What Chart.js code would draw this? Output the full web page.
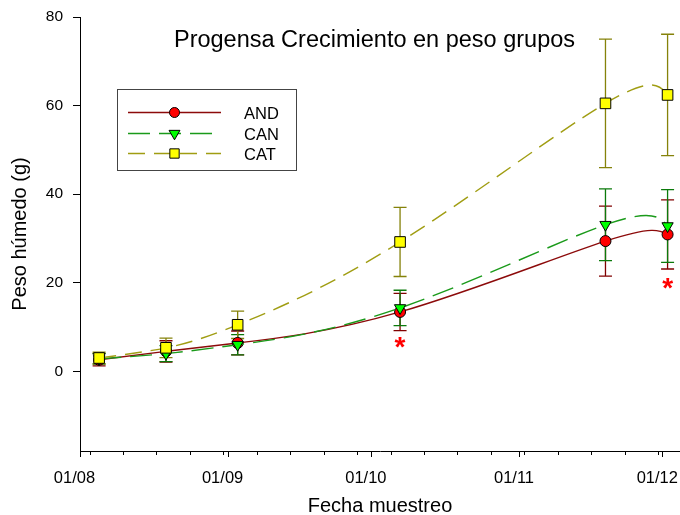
<!DOCTYPE html>
<html>
<head>
<meta charset="utf-8">
<script src="https://cdn.jsdelivr.net/npm/chart.js@4/dist/chart.umd.min.js"></script>
<style>
  html, body { margin: 0; padding: 0; background: #fff; overflow: hidden; }
  #wrap { width: 680px; height: 515px; }
</style>
</head>
<body>
<div id="wrap"><canvas id="c" width="680" height="515"></canvas></div>
<script>
// Sampling dates, as days after 1 Aug 2008
const sampleDays = [4, 18, 33, 67, 110, 123];

// Group means and standard deviations (g)
const andMean = [2.6, 4.5, 6.4, 13.4, 29.4, 30.9];
const andSd   = [1.4, 2.4, 2.7, 4.2, 7.9, 7.8];
const canMean = [2.8, 4.0, 6.0, 14.3, 33.1, 32.8];
const canSd   = [1.2, 1.8, 2.3, 4.0, 8.1, 8.2];
const catMean = [3.0, 5.3, 10.5, 29.2, 60.5, 62.4];
const catSd   = [1.3, 2.2, 3.1, 7.8, 14.5, 13.7];

// Significance marks (day, value)
const sigDays   = [67, 123];
const sigValues = [6.2, 19.5];

// Axis ticks
const monthDays   = [0, 31, 61, 92, 122];
const monthLabels = ['01/08', '01/09', '01/10', '01/11', '01/12'];
const weekDays    = [2, 9, 16, 23, 30, 37, 44, 51, 58, 65, 72, 79, 86, 93, 100, 107, 114, 121];
const yTicks      = [0, 20, 40, 60, 80];

const FONT = "'Liberation Sans', Arial, sans-serif";

const series = [
  { name: 'AND', mean: andMean, sd: andSd, line: '#8c0a0a', bar: '#800000', fill: '#ff0000',
    style: 'circle', radius: 5.5, legendRadius: 5, rotation: 0, dash: [], order: 3 },
  { name: 'CAN', mean: canMean, sd: canSd, line: '#1a9a1a', bar: '#0b7a0b', fill: '#00ff00',
    style: 'triangle', radius: 6.5, legendRadius: 6.3, rotation: 180, dash: [22, 9], order: 2 },
  { name: 'CAT', mean: catMean, sd: catSd, line: '#a09d12', bar: '#85820a', fill: '#ffff00',
    style: 'rect', radius: 7.5, legendRadius: 6.6, rotation: 0, dash: [17, 9], order: 1 }
];

const datasets = series.map(s => ({
  label: s.name,
  data: sampleDays.map((d, i) => ({ x: d, y: s.mean[i] })),
  borderColor: s.line,
  borderWidth: 1.4,
  borderDash: s.dash,
  tension: 0.4,
  fill: false,
  pointStyle: s.style,
  pointRadius: s.radius,
  pointRotation: s.rotation,
  pointBackgroundColor: s.fill,
  pointBorderColor: '#000',
  pointBorderWidth: 1,
  order: s.order
}));

// Natural cubic spline (uniform parameter): second derivatives at the nodes
function naturalSecond(p) {
  const n = p.length;
  const M = new Array(n).fill(0);
  if (n < 3) return M;
  const b = [], c = [], d = [];
  for (let i = 1; i < n - 1; i++) {
    b.push(4); c.push(1); d.push(6 * (p[i + 1] - 2 * p[i] + p[i - 1]));
  }
  const m = d.length;
  for (let i = 1; i < m; i++) {
    const w = 1 / b[i - 1];
    b[i] -= w * c[i - 1];
    d[i] -= w * d[i - 1];
  }
  const sol = new Array(m);
  sol[m - 1] = d[m - 1] / b[m - 1];
  for (let i = m - 2; i >= 0; i--) sol[i] = (d[i] - c[i] * sol[i + 1]) / b[i];
  for (let i = 0; i < m; i++) M[i + 1] = sol[i];
  return M;
}

// First derivatives of the spline at each node
function nodeSlopes(p, M) {
  const n = p.length;
  return p.map((v, i) => i < n - 1
    ? (p[i + 1] - v) - (2 * M[i] + M[i + 1]) / 6
    : (v - p[i - 1]) + (M[i - 1] + 2 * M[i]) / 6);
}

// Replace the default bezier handles of each line with spline handles
const splineCurves = {
  id: 'splineCurves',
  beforeDatasetDraw(chart, args) {
    const line = args.meta.dataset;
    const pts = args.meta.data;
    if (!line || pts.length < 2) return;
    const xs = pts.map(p => p.x), ys = pts.map(p => p.y);
    const dx = nodeSlopes(xs, naturalSecond(xs));
    const dy = nodeSlopes(ys, naturalSecond(ys));
    pts.forEach((p, i) => {
      p.cp1x = p.x - dx[i] / 3; p.cp1y = p.y - dy[i] / 3;
      p.cp2x = p.x + dx[i] / 3; p.cp2y = p.y + dy[i] / 3;
    });
    line.updateControlPoints = () => {};
    line._pointsUpdated = true;
    line._path = undefined;
  }
};

// Vertical error bars with caps, drawn under the markers
const errorBars = {
  id: 'errorBars',
  beforeDatasetsDraw(chart) {
    const { ctx, scales: { x, y } } = chart;
    ctx.save();
    ctx.lineWidth = 1.3;
    series.forEach(s => {
      ctx.strokeStyle = s.bar;
      sampleDays.forEach((d, i) => {
        const px = x.getPixelForValue(d);
        const top = y.getPixelForValue(s.mean[i] + s.sd[i]);
        const bot = y.getPixelForValue(s.mean[i] - s.sd[i]);
        ctx.beginPath();
        ctx.moveTo(px, top); ctx.lineTo(px, bot);
        ctx.moveTo(px - 6.5, top); ctx.lineTo(px + 6.5, top);
        ctx.moveTo(px - 6.5, bot); ctx.lineTo(px + 6.5, bot);
        ctx.stroke();
      });
    });
    ctx.restore();
  }
};

// Weekly minor ticks on the date axis
const minorTicks = {
  id: 'minorTicks',
  afterDraw(chart) {
    const { ctx, scales: { x }, chartArea } = chart;
    ctx.save();
    ctx.strokeStyle = '#000';
    ctx.lineWidth = 1;
    ctx.beginPath();
    weekDays.forEach(d => {
      const px = Math.round(x.getPixelForValue(d)) + 0.5;
      ctx.moveTo(px, chartArea.bottom);
      ctx.lineTo(px, chartArea.bottom + 4);
    });
    ctx.stroke();
    ctx.restore();
  }
};

// Significance asterisks
const sigMarks = {
  id: 'sigMarks',
  afterDatasetsDraw(chart) {
    const { ctx, scales: { x, y } } = chart;
    ctx.save();
    ctx.fillStyle = '#ff0000';
    ctx.font = 'bold 28px ' + FONT;
    ctx.textAlign = 'center';
    ctx.textBaseline = 'alphabetic';
    sigDays.forEach((d, i) => {
      ctx.fillText('*', x.getPixelForValue(d), y.getPixelForValue(sigValues[i]) + 12);
    });
    ctx.restore();
  }
};

// Chart heading inside the plot area
const heading = {
  id: 'heading',
  afterDraw(chart) {
    const { ctx } = chart;
    ctx.save();
    ctx.fillStyle = '#000';
    ctx.font = '23.5px ' + FONT;
    ctx.textAlign = 'center';
    ctx.textBaseline = 'alphabetic';
    ctx.fillText('Progensa Crecimiento en peso grupos', 374.5, 46.7);
    ctx.restore();
  }
};

// Boxed legend with line samples and markers
const lineLegend = {
  id: 'lineLegend',
  afterDraw(chart) {
    const { ctx } = chart;
    const bx = 117.5, by = 89.5, bw = 179, bh = 81;
    const rows = [112, 133, 153];
    ctx.save();
    ctx.fillStyle = '#fff';
    ctx.fillRect(bx, by, bw, bh);
    ctx.strokeStyle = '#444';
    ctx.lineWidth = 1;
    ctx.strokeRect(bx, by, bw, bh);
    series.forEach((s, i) => {
      const ly = rows[i] + 0.5;
      ctx.strokeStyle = s.line;
      ctx.lineWidth = 1.4;
      ctx.setLineDash(s.dash);
      ctx.beginPath();
      ctx.moveTo(128, ly); ctx.lineTo(221, ly);
      ctx.stroke();
      ctx.setLineDash([]);
      ctx.fillStyle = s.fill;
      ctx.strokeStyle = '#000';
      ctx.lineWidth = 1;
      Chart.helpers.drawPoint(ctx, {
        pointStyle: s.style, radius: s.legendRadius, rotation: s.rotation, borderWidth: 1
      }, 174.5, ly);
      ctx.fillStyle = '#000';
      ctx.font = '16.5px ' + FONT;
      ctx.textAlign = 'left';
      ctx.textBaseline = 'alphabetic';
      ctx.fillText(s.name, 244, ly + 6);
    });
    ctx.restore();
  }
};

new Chart(document.getElementById('c'), {
  type: 'line',
  data: { datasets },
  plugins: [splineCurves, errorBars, minorTicks, sigMarks, heading, lineLegend],
  options: {
    responsive: false,
    animation: false,
    devicePixelRatio: 1,
    layout: { autoPadding: false, padding: { top: 17, right: 0, bottom: 0, left: 0 } },
    plugins: { legend: { display: false }, tooltip: { enabled: false } },
    scales: {
      x: {
        type: 'linear',
        min: 0,
        max: 125.6,
        afterBuildTicks(scale) { scale.ticks = monthDays.map(v => ({ value: v })); },
        afterFit(scale) { scale.height = 64; scale.paddingLeft = 0; scale.paddingRight = 0; },
        ticks: {
          autoSkip: false,
          maxRotation: 0,
          padding: 12,
          labelOffset: -5.5,
          color: '#000',
          font: { family: FONT, size: 16.5 },
          callback(value) {
            const k = monthDays.indexOf(value);
            return k >= 0 ? monthLabels[k] : '';
          }
        },
        grid: { drawOnChartArea: false, drawTicks: true, tickLength: 6, color: '#000' },
        border: { display: true, color: '#000', width: 1 },
        title: {
          display: true,
          text: 'Fecha muestreo',
          color: '#000',
          font: { family: FONT, size: 20, lineHeight: 1 },
          padding: { top: 0, bottom: -1 }
        }
      },
      y: {
        type: 'linear',
        min: -18,
        max: 80,
        afterBuildTicks(scale) { scale.ticks = yTicks.map(v => ({ value: v })); },
        afterFit(scale) { scale.width = 80; scale.paddingTop = 0; scale.paddingBottom = 0; },
        ticks: {
          padding: 10,
          color: '#000',
          font: { family: FONT, size: 15.5 }
        },
        grid: { drawOnChartArea: false, drawTicks: true, tickLength: 7, color: '#000' },
        border: { display: true, color: '#000', width: 1 },
        title: {
          display: true,
          text: 'Peso húmedo (g)',
          color: '#000',
          font: { family: FONT, size: 20, lineHeight: 1 },
          padding: { top: 10, bottom: 0 }
        }
      }
    }
  }
});
</script>
</body>
</html>
